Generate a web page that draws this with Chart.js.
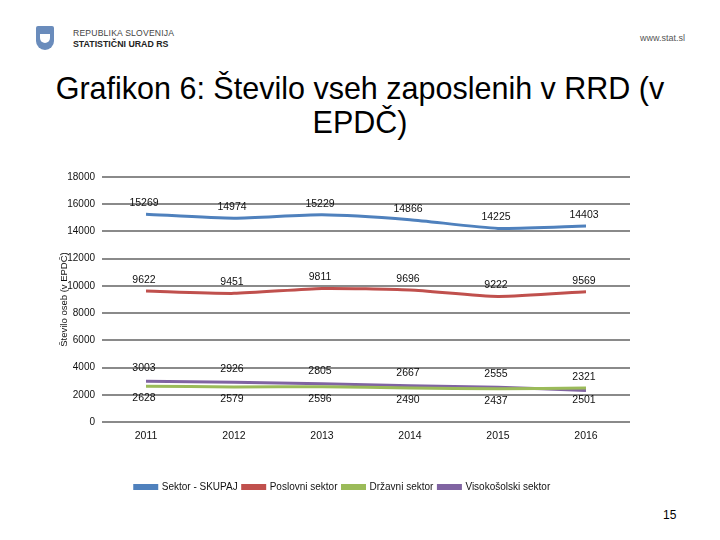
<!DOCTYPE html>
<html>
<head>
<meta charset="utf-8">
<script src="https://cdn.jsdelivr.net/npm/chart.js@4.4.1/dist/chart.umd.min.js"></script>
<style>
  html, body { margin:0; padding:0; background:#fff; }
  body { width:720px; height:540px; position:relative; overflow:hidden; font-family:"Liberation Sans", Arial, sans-serif; }
  #c { position:absolute; left:0; top:0; }
  .logo { position:absolute; left:36px; top:26px; width:18px; height:24px; background:#6a8cbc; border-radius:2px 2px 9px 9px; }
  .logo:after { content:""; position:absolute; left:4px; top:8px; width:10px; height:9px; background:#fff; border-radius:0 0 5px 5px; }
  .org1 { position:absolute; left:73px; top:28px; font-size:8.6px; color:#444; letter-spacing:0.2px; }
  .org2 { position:absolute; left:73px; top:39px; font-size:8.8px; color:#222; font-weight:bold; }
  .web { position:absolute; left:640px; top:33px; font-size:9px; color:#555; }
  .title { position:absolute; left:0; top:71px; width:720px; text-align:center; font-size:30.5px; line-height:34px; color:#000; }
  .page { position:absolute; left:663px; top:508px; font-size:12px; color:#000; }
</style>
</head>
<body>
<div class="logo"></div>
<div class="org1">REPUBLIKA SLOVENIJA</div>
<div class="org2">STATISTIČNI URAD RS</div>
<div class="web">www.stat.sl</div>
<div class="title">Grafikon 6: Število vseh zaposlenih v RRD (v<br>EPDČ)</div>
<div class="page">15</div>
<canvas id="c" width="720" height="540"></canvas>
<script>
const years = ["2011", "2012", "2013", "2014", "2015", "2016"];
const skupaj = [15269, 14974, 15229, 14866, 14225, 14403];
const poslovni = [9622, 9451, 9811, 9696, 9222, 9569];
const drzavni = [2628, 2579, 2596, 2490, 2437, 2501];
const visokosolski = [3003, 2926, 2805, 2667, 2555, 2321];
const yTicks = [0, 2000, 4000, 6000, 8000, 10000, 12000, 14000, 16000, 18000];

const labelOffsets = [-11, -11, 12, -13];

const dataLabels = {
  id: 'dataLabels',
  afterDatasetsDraw(chart) {
    const ctx = chart.ctx;
    ctx.save();
    ctx.font = '10.5px "Liberation Sans", Arial, sans-serif';
    ctx.fillStyle = '#111';
    ctx.textAlign = 'center';
    ctx.textBaseline = 'middle';
    chart.data.datasets.forEach((ds, i) => {
      const meta = chart.getDatasetMeta(i);
      meta.data.forEach((pt, j) => {
        ctx.fillText(String(ds.data[j]), pt.x - 2, pt.y + labelOffsets[i]);
      });
    });
    ctx.restore();
  }
};

function ds(label, data, color) {
  return { label, data, borderColor: color, backgroundColor: color, borderWidth: 3,
           pointRadius: 0, pointHoverRadius: 0, tension: 0.2, fill: false };
}

new Chart(document.getElementById('c'), {
  type: 'line',
  data: {
    labels: years,
    datasets: [
      ds('Sektor - SKUPAJ', skupaj, '#4F81BD'),
      ds('Poslovni sektor', poslovni, '#C0504D'),
      ds('Državni sektor', drzavni, '#9BBB59'),
      ds('Visokošolski sektor', visokosolski, '#8064A2')
    ]
  },
  options: {
    responsive: false,
    animation: false,
    devicePixelRatio: 1,
    layout: { padding: { top: 177, left: 55, right: 90, bottom: 38 } },
    plugins: {
      tooltip: { enabled: false },
      legend: {
        position: 'bottom',
        labels: {
          boxWidth: 22, boxHeight: 3,
          color: '#111', padding: 5,
          font: { size: 10, family: '"Liberation Sans", Arial, sans-serif' }
        }
      }
    },
    scales: {
      x: {
        offset: true,
        grid: { display: false, drawTicks: false },
        border: { display: false },
        ticks: { color: '#111', padding: 8, font: { size: 10.5, family: '"Liberation Sans", Arial, sans-serif' } },
        afterFit(s) { s.height = 55; }
      },
      y: {
        min: 0, max: 18000,
        afterBuildTicks(s) { s.ticks = yTicks.map(v => ({ value: v })); },
        grid: { color: '#8a8a8a', lineWidth: 2, drawTicks: false },
        border: { display: false },
        ticks: { color: '#111', padding: 7, callback: v => String(v),
                 font: { size: 10, family: '"Liberation Sans", Arial, sans-serif' } },
        title: { display: true, text: 'Število oseb (v EPDČ)', color: '#111', padding: 4,
                 font: { size: 9.5, family: '"Liberation Sans", Arial, sans-serif' } },
        afterFit(s) { s.width = 47; }
      }
    }
  },
  plugins: [dataLabels]
});
</script>
</body>
</html>
